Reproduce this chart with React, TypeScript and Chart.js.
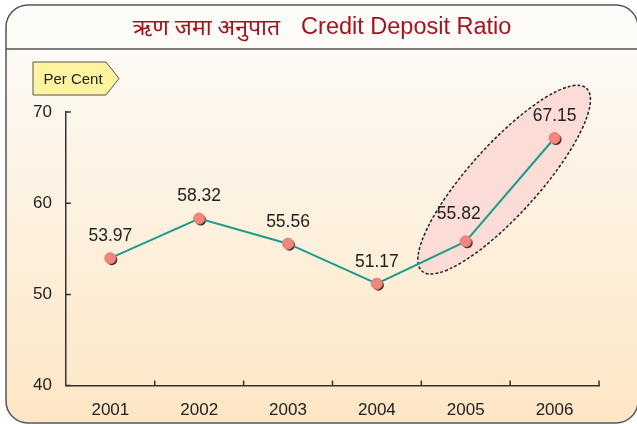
import React, { useEffect, useRef } from 'react';
import { Chart, registerables } from 'chart.js';

Chart.register(...registerables);

// ---- data ----
const TITLE_HI = 'ऋण जमा अनुपात';
const TITLE_EN = 'Credit Deposit Ratio';
const UNIT_LABEL = 'Per Cent';
const years = ['2001', '2002', '2003', '2004', '2005', '2006'];
const ratio = [53.97, 58.32, 55.56, 51.17, 55.82, 67.15];
const yTickValues = [40, 50, 60, 70];
const highlightYears = ['2005', '2006'];

const FONT = '"Liberation Sans", Arial, Helvetica, sans-serif';
const TEXT = '#222222';

function roundRectPath(ctx: CanvasRenderingContext2D, x0: number, y0: number, x1: number, y1: number, r: number) {
  ctx.beginPath();
  ctx.moveTo(x0 + r, y0);
  ctx.lineTo(x1 - r, y0);
  ctx.arcTo(x1, y0, x1, y0 + r, r);
  ctx.lineTo(x1, y1 - r);
  ctx.arcTo(x1, y1, x1 - r, y1, r);
  ctx.lineTo(x0 + r, y1);
  ctx.arcTo(x0, y1, x0, y1 - r, r);
  ctx.lineTo(x0, y0 + r);
  ctx.arcTo(x0, y0, x0 + r, y0, r);
  ctx.closePath();
}

const decorPlugin = {
  id: 'decor',
  beforeDraw(chart: any) {
    const ctx: CanvasRenderingContext2D = chart.ctx;
    const x0 = 6, y0 = 5, x1 = 638, y1 = 423, r = 22, sep = 49;
    ctx.save();
    ctx.fillStyle = '#ffffff';
    ctx.fillRect(0, 0, chart.width, chart.height);
    roundRectPath(ctx, x0, y0, x1, y1, r);
    const g = ctx.createLinearGradient(0, sep, 0, y1);
    g.addColorStop(0, '#fdfaf5');
    g.addColorStop(1, '#fde6c4');
    ctx.fillStyle = g;
    ctx.fill();
    ctx.save();
    ctx.clip();
    ctx.fillStyle = '#fdfcf9';
    ctx.fillRect(x0, y0, x1 - x0, sep - y0);
    ctx.restore();
    ctx.strokeStyle = '#555555';
    ctx.lineWidth = 1.5;
    roundRectPath(ctx, x0, y0, x1, y1, r);
    ctx.stroke();
    ctx.beginPath();
    ctx.moveTo(x0, sep);
    ctx.lineTo(x1, sep);
    ctx.stroke();

    // title
    ctx.fillStyle = '#a3141f';
    ctx.textBaseline = 'middle';
    ctx.textAlign = 'left';
    const fontHi = `23px "Noto Sans", ${FONT}`;
    const fontEn = `23.5px ${FONT}`;
    ctx.font = fontHi;
    const wHi = ctx.measureText(TITLE_HI).width;
    ctx.font = fontEn;
    const wEn = ctx.measureText(TITLE_EN).width;
    const gap = 21;
    const start = 322 - (wHi + gap + wEn) / 2;
    ctx.font = fontHi;
    ctx.fillText(TITLE_HI, start, 28);
    ctx.font = fontEn;
    ctx.fillText(TITLE_EN, start + wHi + gap, 28);

    // unit tag
    const bx0 = 33, bx1 = 106, tip = 119, by0 = 62, by1 = 95;
    ctx.beginPath();
    ctx.moveTo(bx0, by0);
    ctx.lineTo(bx1, by0);
    ctx.lineTo(tip, (by0 + by1) / 2);
    ctx.lineTo(bx1, by1);
    ctx.lineTo(bx0, by1);
    ctx.closePath();
    ctx.fillStyle = '#fdf3a0';
    ctx.fill();
    ctx.strokeStyle = '#555555';
    ctx.lineWidth = 1;
    ctx.stroke();
    ctx.fillStyle = TEXT;
    ctx.font = `15px ${FONT}`;
    ctx.textAlign = 'center';
    ctx.fillText(UNIT_LABEL, (bx0 + tip) / 2 - 3, (by0 + by1) / 2 + 1);
    ctx.restore();
  },
  beforeDatasetsDraw(chart: any) {
    const ctx: CanvasRenderingContext2D = chart.ctx;
    const ys = chart.scales.y;
    const area = chart.chartArea;
    const meta = chart.getDatasetMeta(0);
    ctx.save();

    // highlight ellipse around the selected years
    const pts = highlightYears.map((yr) => meta.data[years.indexOf(yr)]);
    const cx = (pts[0].x + pts[1].x) / 2 - 6;
    const cy = (pts[0].y + pts[1].y) / 2 - 10;
    ctx.beginPath();
    ctx.ellipse(cx, cy, 123, 35, (-48 * Math.PI) / 180, 0, Math.PI * 2);
    ctx.fillStyle = '#fbdcd7';
    ctx.fill();
    ctx.setLineDash([3, 2]);
    ctx.lineWidth = 1.5;
    ctx.strokeStyle = '#222222';
    ctx.stroke();
    ctx.setLineDash([]);

    // inward tick marks
    ctx.strokeStyle = '#333333';
    ctx.lineWidth = 1.5;
    ctx.beginPath();
    yTickValues.forEach((v) => {
      const py = ys.getPixelForValue(v);
      ctx.moveTo(area.left, py);
      ctx.lineTo(area.left + 5, py);
    });
    const n = years.length;
    for (let i = 1; i <= n; i++) {
      const px = area.left + ((area.right - area.left) * i) / n;
      ctx.moveTo(px, area.bottom);
      ctx.lineTo(px, area.bottom - 5);
    }
    ctx.stroke();

    // point shadows
    ctx.fillStyle = '#4a3030';
    meta.data.forEach((p: any) => {
      ctx.beginPath();
      ctx.arc(p.x + 1.5, p.y + 1.5, 5.5, 0, Math.PI * 2);
      ctx.fill();
    });
    ctx.restore();
  },
  afterDatasetsDraw(chart: any) {
    const ctx: CanvasRenderingContext2D = chart.ctx;
    const meta = chart.getDatasetMeta(0);
    ctx.save();
    ctx.fillStyle = TEXT;
    ctx.font = `17.5px ${FONT}`;
    ctx.textAlign = 'center';
    ctx.textBaseline = 'middle';
    meta.data.forEach((p: any, i: number) => {
      const dx = years[i] === '2005' ? -7 : 0;
      const dy = years[i] === '2005' ? -27 : -22;
      ctx.fillText(ratio[i].toFixed(2), p.x + dx, p.y + dy);
    });
    ctx.restore();
  },
};

export default function App() {
  const ref = useRef<HTMLCanvasElement | null>(null);
  useEffect(() => {
    document.body.style.margin = '0';
    const canvas = ref.current;
    if (!canvas) return;
    const chart = new Chart(canvas, {
      type: 'line',
      data: {
        labels: years,
        datasets: [
          {
            data: ratio,
            borderColor: '#1d9b8b',
            borderWidth: 2,
            pointRadius: 5.5,
            pointBackgroundColor: '#f2877f',
            pointBorderColor: '#e8786f',
            pointBorderWidth: 1,
            tension: 0,
          },
        ],
      },
      options: {
        responsive: false,
        animation: false,
        devicePixelRatio: 1,
        layout: { padding: { left: 19, right: 38, top: 112, bottom: -12 } },
        plugins: { legend: { display: false }, tooltip: { enabled: false }, title: { display: false } },
        scales: {
          x: {
            type: 'category',
            offset: true,
            grid: { display: false, drawTicks: false },
            border: { display: true, color: '#333333', width: 1.5 },
            ticks: { color: TEXT, font: { family: FONT, size: 17 }, padding: 15 },
          },
          y: {
            min: 40,
            max: 70,
            grid: { display: false, drawTicks: false },
            border: { display: true, color: '#333333', width: 1.5 },
            afterBuildTicks: (axis: any) => {
              axis.ticks = yTickValues.map((v) => ({ value: v }));
            },
            ticks: { color: TEXT, font: { family: FONT, size: 17 }, padding: 14 },
          },
        },
      },
      plugins: [decorPlugin],
    });
    return () => chart.destroy();
  }, []);
  return (
    <div style={{ width: 637, height: 424 }}>
      <canvas ref={ref} width={637} height={424} />
    </div>
  );
}
